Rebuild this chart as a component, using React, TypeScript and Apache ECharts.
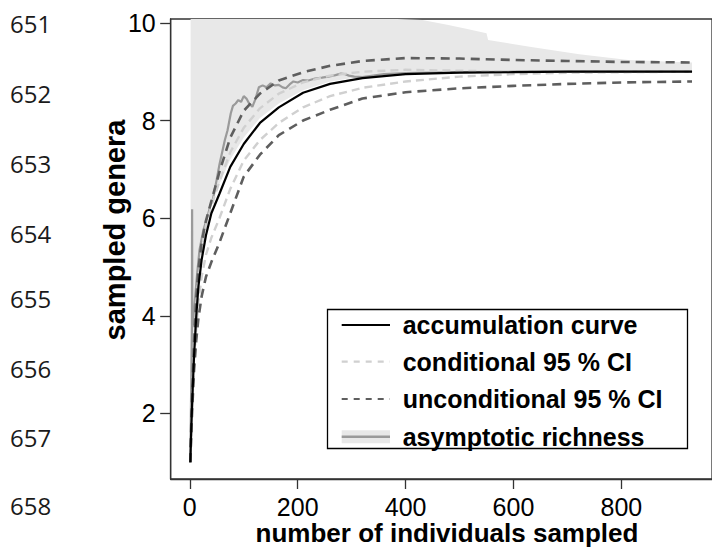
import React, { useEffect, useRef } from "react";
import * as echarts from "echarts";

// ---- data ----
const xGrid = [1, 3, 5, 8, 12, 16, 22, 30, 40, 55, 75, 100, 130, 165, 210, 260, 320, 400, 500, 600, 700, 800, 931];
const accumulation = [1.0, 1.8, 2.4, 3.2, 4.0, 4.6, 5.15, 5.65, 6.1, 6.5, 7.05, 7.52, 7.95, 8.27, 8.57, 8.75, 8.87, 8.95, 8.98, 8.99, 9.0, 9.0, 9.0];
const condUpper = [1.0, 1.85, 2.5, 3.35, 4.2, 4.8, 5.35, 5.85, 6.25, 6.75, 7.35, 7.85, 8.25, 8.55, 8.78, 8.92, 9.0, 9.04, 9.02, 9.0, 9.0, 9.0, 9.0];
const condLower = [1.0, 1.75, 2.3, 3.05, 3.75, 4.3, 4.8, 5.25, 5.6, 6.0, 6.6, 7.18, 7.6, 7.95, 8.27, 8.5, 8.67, 8.8, 8.9, 8.95, 8.98, 8.99, 9.0];
const uncondUpper = [1.0, 1.9, 2.6, 3.5, 4.35, 4.95, 5.5, 5.95, 6.35, 6.95, 7.65, 8.2, 8.55, 8.82, 8.99, 9.12, 9.22, 9.28, 9.27, 9.24, 9.22, 9.2, 9.19];
const uncondLower = [1.0, 1.7, 2.2, 2.9, 3.5, 3.95, 4.4, 4.8, 5.1, 5.5, 6.1, 6.85, 7.3, 7.7, 8.0, 8.22, 8.45, 8.58, 8.66, 8.71, 8.75, 8.78, 8.8];

const asymX = [1, 2, 3, 4, 4.3, 4.6, 6, 8, 10, 14, 18, 25, 32, 38, 43, 50, 55, 60, 65, 70, 76, 80, 85, 90, 95, 100, 105, 110, 116, 122, 128, 135, 142, 150, 158, 165, 172, 178, 185, 192, 200, 210, 220, 232, 245, 257, 270, 280, 288, 295, 305, 320, 340, 360, 400, 500, 600, 700, 800, 931];
const asymY = [1.0, 2.0, 2.9, 3.8, 6.18, 3.9, 3.8, 4.1, 4.4, 4.9, 5.35, 5.75, 6.0, 6.25, 6.4, 6.8, 7.1, 7.35, 7.6, 7.8, 8.15, 8.3, 8.35, 8.42, 8.38, 8.5, 8.45, 8.35, 8.28, 8.45, 8.68, 8.72, 8.68, 8.76, 8.72, 8.73, 8.68, 8.66, 8.74, 8.8, 8.78, 8.83, 8.82, 8.86, 8.88, 8.9, 8.93, 8.96, 8.95, 8.92, 8.9, 8.89, 8.92, 8.95, 8.97, 8.99, 9.0, 9.0, 9.0, 9.0];

const bandX = [1.5, 3, 5, 8, 12, 16, 22, 30, 40, 55, 75, 100, 130, 165, 210, 260, 320, 385, 431, 477, 508, 550, 553, 630, 722, 813, 931];
const bandLow = [1.3, 1.9, 2.6, 3.4, 4.2, 4.8, 5.35, 5.85, 6.25, 6.7, 7.2, 7.65, 8.05, 8.35, 8.62, 8.8, 8.9, 8.95, 8.97, 8.98, 8.98, 8.99, 8.99, 9.0, 9.0, 9.0, 9.0];
const bandHigh = [10.3, 10.3, 10.3, 10.3, 10.3, 10.3, 10.3, 10.3, 10.3, 10.3, 10.3, 10.3, 10.3, 10.3, 10.3, 10.3, 10.3, 10.08, 10.06, 9.96, 9.89, 9.79, 9.65, 9.51, 9.36, 9.24, 9.19];

const xTicks = [0, 200, 400, 600, 800];
const yTicks = [2, 4, 6, 8, 10];
const lineNumbers = ["651", "652", "653", "654", "655", "656", "657", "658"];
const lineNumberY = [23.5, 93, 163, 233, 298, 368, 437, 505];

const legendLabels = ["accumulation curve", "conditional 95 % CI", "unconditional 95 % CI", "asymptotic richness"];

const pairs = (xs: number[], ys: number[]) => xs.map((x, i) => [x, ys[i]]);

const LIGHT = "#d0d0d0";
const DARK = "#5e5e5e";
const GREY = "#9a9a9a";
const BAND = "#e8e8e8";
const FONT = '"Liberation Sans", Arial, sans-serif';

function lineSeries(name: string, data: number[][], color: string, width: number, type: any, z: number) {
  return {
    name,
    type: "line",
    data,
    symbol: "none",
    showSymbol: false,
    silent: true,
    z,
    lineStyle: { color, width, type },
    clip: true,
  };
}

export default function App() {
  const ref = useRef<HTMLDivElement>(null);
  useEffect(() => {
    const chart = echarts.init(ref.current!, null, { renderer: "svg" });
    const legendYs = [325, 361.7, 399, 436.7];
    const lx1 = 341.7, lx2 = 390;
    const graphic: any[] = [
      {
        type: "rect",
        z: 100,
        shape: { x: 327.5, y: 309.5, width: 360, height: 139 },
        style: { fill: "#fff", stroke: "#000", lineWidth: 1.3 },
      },
      { type: "line", z: 101, shape: { x1: lx1, y1: legendYs[0], x2: lx2, y2: legendYs[0] }, style: { stroke: "#000", lineWidth: 2.2 } },
      { type: "line", z: 101, shape: { x1: lx1, y1: legendYs[1], x2: lx2, y2: legendYs[1] }, style: { stroke: LIGHT, lineWidth: 2.2, lineDash: [6, 6] } },
      { type: "line", z: 101, shape: { x1: lx1, y1: legendYs[2], x2: lx2, y2: legendYs[2] }, style: { stroke: DARK, lineWidth: 2.2, lineDash: [6, 6] } },
      { type: "rect", z: 101, shape: { x: lx1, y: legendYs[3] - 6.5, width: lx2 - lx1, height: 13 }, style: { fill: BAND } },
      { type: "line", z: 102, shape: { x1: lx1, y1: legendYs[3], x2: lx2, y2: legendYs[3] }, style: { stroke: GREY, lineWidth: 2.5 } },
      ...legendLabels.map((t, i) => ({
        type: "text",
        z: 102,
        x: 402.7,
        y: legendYs[i],
        style: {
          text: t,
          font: `bold 25px ${FONT}`,
          fill: "#000",
          align: "left",
          verticalAlign: "middle",
          textAlign: "left",
          textVerticalAlign: "middle",
        },
      })),
      {
        type: "text",
        x: 115,
        y: 230,
        rotation: Math.PI / 2,
        style: {
          text: "sampled genera",
          font: `bold 29px ${FONT}`,
          fill: "#000",
          align: "center",
          verticalAlign: "middle",
          textAlign: "center",
          textVerticalAlign: "middle",
        },
      },
      {
        type: "text",
        x: 447,
        y: 532.5,
        style: {
          text: "number of individuals sampled",
          font: `bold 26px ${FONT}`,
          lineHeight: 22,
          fill: "#000",
          align: "center",
          verticalAlign: "middle",
          textAlign: "center",
          textVerticalAlign: "middle",
        },
      },
      ...lineNumbers.map((t, i) => ({
        type: "text",
        x: 10,
        y: lineNumberY[i],
        style: {
          text: t,
          font: `24px "Open Sans", "Noto Sans", sans-serif`,
          fill: "#1a1a1a",
          align: "left",
          verticalAlign: "middle",
          textAlign: "left",
          textVerticalAlign: "middle",
        },
      })),
    ];

    const option: any = {
      animation: false,
      backgroundColor: "#fff",
      grid: {
        left: 170.7,
        top: 19,
        width: 547,
        height: 460,
        show: true,
        borderColor: "#333",
        borderWidth: 1.3,
        backgroundColor: "transparent",
      },
      xAxis: {
        type: "value",
        min: -35.4,
        max: 968,
        axisLine: { show: true, onZero: false, lineStyle: { color: "#333", width: 1.3 } },
        axisTick: { show: true, customValues: xTicks, length: 10, lineStyle: { color: "#333", width: 1.3 } },
        axisLabel: { customValues: xTicks, fontSize: 25, lineHeight: 21, fontFamily: FONT, color: "#000", margin: 17 },
        splitLine: { show: false },
      },
      yAxis: {
        type: "value",
        min: 0.656,
        max: 10.08,
        axisLine: { show: true, onZero: false, lineStyle: { color: "#333", width: 1.3 } },
        axisTick: { show: true, customValues: yTicks, length: 10.5, lineStyle: { color: "#333", width: 1.3 } },
        axisLabel: { customValues: yTicks, fontSize: 25, fontFamily: FONT, color: "#000", margin: 15 },
        splitLine: { show: false },
      },
      series: [
        {
          name: "asymptotic band",
          type: "custom",
          silent: true,
          z: 1,
          data: [0],
          renderItem: (params: any, api: any) => {
            const upper = bandX.map((x, i) => api.coord([x, bandHigh[i]]));
            const lower = bandX.map((x, i) => api.coord([x, bandLow[i]])).reverse();
            const cs = params.coordSys;
            return {
              type: "polygon",
              shape: { points: upper.concat(lower) },
              style: { fill: BAND, stroke: "none" },
              clipPath: { type: "rect", shape: { x: cs.x, y: cs.y, width: cs.width, height: cs.height } },
            };
          },
        },
        lineSeries("asymptotic richness", pairs(asymX, asymY), GREY, 2.2, "solid", 2),
        lineSeries("conditional lower", pairs(xGrid, condLower), LIGHT, 2.4, [8, 5], 3),
        lineSeries("conditional upper", pairs(xGrid, condUpper), LIGHT, 2.4, [8, 5], 3),
        lineSeries("unconditional lower", pairs(xGrid, uncondLower), DARK, 2.6, [9, 6], 4),
        lineSeries("unconditional upper", pairs(xGrid, uncondUpper), DARK, 2.6, [9, 6], 4),
        lineSeries("accumulation curve", pairs(xGrid, accumulation), "#000", 2.2, "solid", 5),
      ],
      graphic,
    };
    chart.setOption(option);
    return () => chart.dispose();
  }, []);
  return (
    <div
      ref={ref}
      style={{ position: "fixed", left: 0, top: 0, width: 712, height: 548, background: "#fff" }}
    />
  );
}
